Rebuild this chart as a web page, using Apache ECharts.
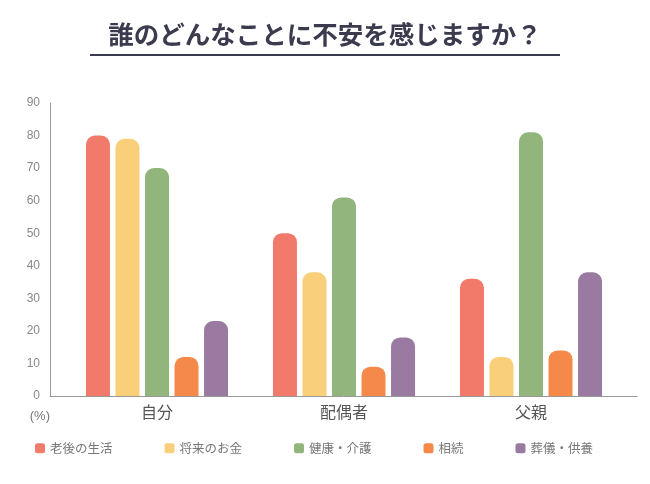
<!DOCTYPE html>
<html>
<head>
<meta charset="utf-8">
<script src="https://cdn.jsdelivr.net/npm/echarts@6/dist/echarts.min.js"></script>
<style>
  html, body { margin: 0; padding: 0; background: #fff; }
  #chart { width: 650px; height: 484px; }
</style>
</head>
<body>
<div id="chart"></div>
<script>
// data
var categories = ["自分", "配偶者", "父親"];
var seriesNames = ["老後の生活", "将来のお金", "健康・介護", "相続", "葬儀・供養"];
var rogo = [80, 50, 36];
var okane = [79, 38, 12];
var kenko = [70, 61, 81];
var sozoku = [12, 9, 14];
var sogi = [23, 18, 38];
var yTicks = [0, 10, 20, 30, 40, 50, 60, 70, 80, 90];

var colors = ["#f27a6b", "#f9cf7a", "#91b57b", "#f4894a", "#9a7aa0"];
var values = [rogo, okane, kenko, sozoku, sogi];
var font = "'Liberation Sans', 'Noto Sans CJK JP', sans-serif";

var myChart = echarts.init(document.getElementById("chart"));

var series = seriesNames.map(function (name, i) {
  return {
    name: name,
    type: "bar",
    xAxisIndex: 0,
    yAxisIndex: 0,
    barWidth: 24,
    barGap: "23%",
    itemStyle: {
      color: colors[i],
      borderRadius: [9, 9, 0, 0]
    },
    data: values[i]
  };
});

var option = {
  animation: false,
  textStyle: { fontFamily: font },
  title: {
    text: "誰のどんなことに不安を感じますか？",
    left: "center",
    top: 17,
    textStyle: {
      fontFamily: "'Noto Sans CJK JP', sans-serif",
      fontSize: 25.5,
      fontWeight: "bold",
      color: "#3b3b4f"
    }
  },
  graphic: [
    {
      type: "line",
      shape: { x1: 90, y1: 55, x2: 560, y2: 55 },
      style: { stroke: "#3b3b4f", lineWidth: 2 }
    }
  ],
  legend: {
    data: seriesNames,
    left: 30,
    top: 437,
    itemWidth: 10,
    itemHeight: 10,
    itemGap: 52,
    icon: "roundRect",
    textStyle: {
      fontFamily: "'Noto Sans CJK JP', sans-serif",
      fontSize: 12.5,
      color: "#777"
    }
  },
  grid: [
    { left: 63.5, right: 25.5, top: 103, bottom: 88 },
    { left: 50, right: 13, top: 103, bottom: 88 }
  ],
  xAxis: [
    {
      type: "category",
      gridIndex: 0,
      data: categories,
      axisLine: { show: false },
      axisTick: { show: false },
      axisLabel: {
        fontFamily: "'Noto Sans CJK JP', sans-serif",
        fontSize: 16,
        color: "#555",
        margin: 8
      }
    },
    {
      type: "value",
      gridIndex: 1,
      axisLine: { show: true, lineStyle: { color: "#999", width: 1 } },
      axisTick: { show: false },
      axisLabel: { show: false },
      splitLine: { show: false }
    }
  ],
  yAxis: [
    {
      type: "value",
      gridIndex: 0,
      min: yTicks[0],
      max: yTicks[yTicks.length - 1],
      interval: 10,
      offset: 13.5,
      name: "(%)",
      nameLocation: "start",
      nameGap: 14,
      nameTextStyle: {
        fontSize: 13,
        color: "#777",
        align: "right",
        verticalAlign: "top"
      },
      axisLine: { show: true, lineStyle: { color: "#999", width: 1 } },
      axisTick: { show: false },
      splitLine: { show: false },
      axisLabel: { fontSize: 12, color: "#888", margin: 10 }
    },
    {
      type: "value",
      gridIndex: 1,
      show: false
    }
  ],
  series: series
};

myChart.setOption(option);
</script>
</body>
</html>
